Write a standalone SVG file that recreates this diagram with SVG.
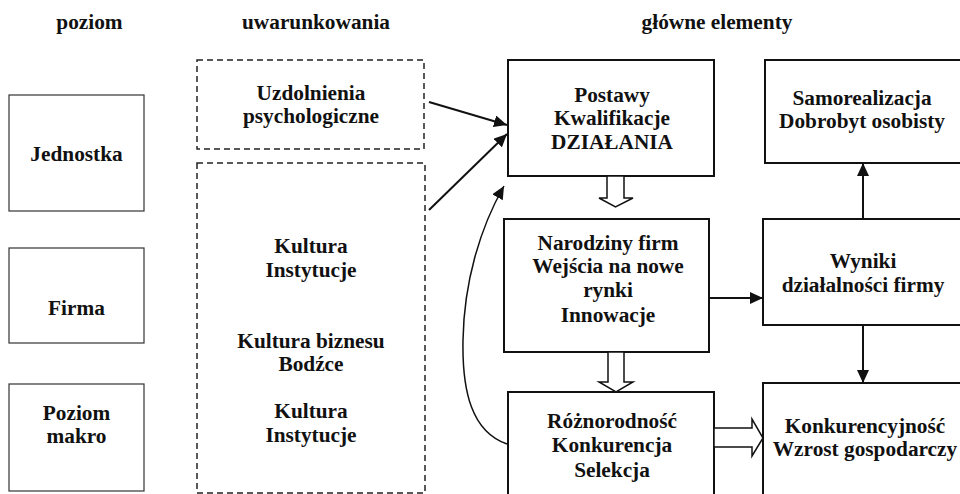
<svg xmlns="http://www.w3.org/2000/svg" width="960" height="494" viewBox="0 0 960 494">
<style>
text{font-family:"Liberation Serif","Times New Roman",serif;font-weight:bold;font-size:21.3px;fill:#111;text-anchor:middle}
.lvl{fill:#fff;stroke:#333;stroke-width:1.2}
.dash{fill:#fff;stroke:#222;stroke-width:1.5;stroke-dasharray:6 4}
.box{fill:#fff;stroke:#111;stroke-width:2}
.ln{fill:none;stroke:#111;stroke-width:2}
.hol{fill:#fff;stroke:#111;stroke-width:1.5}
</style>
<defs>
<marker id="ah" markerUnits="userSpaceOnUse" markerWidth="14" markerHeight="12" refX="13" refY="6" orient="auto">
<path d="M0,0 L13,6 L0,12 Z" fill="#111"/>
</marker>
</defs>
<rect width="960" height="494" fill="#fff"/>
<g id="headers">
<text x="89.5" y="29">poziom</text>
<text x="316" y="29">uwarunkowania</text>
<text x="717" y="29">główne elementy</text>
</g>
<g id="jednostka"><rect class="lvl" x="9" y="95" width="135" height="116"/><text x="76.5" y="161">Jednostka</text></g>
<g id="firma"><rect class="lvl" x="9" y="248" width="135" height="95"/><text x="76.5" y="315">Firma</text></g>
<g id="makro"><rect class="lvl" x="9" y="384" width="135" height="107"/><text x="76.5" y="420">Poziom</text><text x="76.5" y="443">makro</text></g>
<g id="uzdolnienia"><rect class="dash" x="197" y="60" width="227" height="89"/><text x="311" y="100">Uzdolnienia</text><text x="311" y="123">psychologiczne</text></g>
<g id="kultura"><rect class="dash" x="197" y="163" width="228" height="330"/>
<text x="311" y="253">Kultura</text><text x="311" y="277">Instytucje</text>
<text x="311" y="348">Kultura biznesu</text><text x="311" y="371">Bodźce</text>
<text x="311" y="418">Kultura</text><text x="311" y="442">Instytucje</text></g>
<g id="postawy"><rect class="box" x="508" y="60" width="206" height="116"/><text x="612" y="102">Postawy</text><text x="612" y="125">Kwalifikacje</text><text x="612" y="149">DZIAŁANIA</text></g>
<g id="samorealizacja"><rect class="box" x="765" y="60" width="197" height="103"/><text x="862" y="105">Samorealizacja</text><text x="862" y="128">Dobrobyt osobisty</text></g>
<g id="narodziny"><rect class="box" x="504" y="219" width="205" height="133"/><text x="608" y="250">Narodziny firm</text><text x="608" y="273">Wejścia na nowe</text><text x="608" y="297">rynki</text><text x="608" y="322">Innowacje</text></g>
<g id="wyniki"><rect class="box" x="763" y="219" width="199" height="106"/><text x="863" y="268">Wyniki</text><text x="863" y="292">działalności firmy</text></g>
<g id="roznorodnosc"><rect class="box" x="508" y="392" width="206" height="110"/><text x="612" y="428">Różnorodność</text><text x="612" y="452">Konkurencja</text><text x="612" y="477">Selekcja</text></g>
<g id="konkurencyjnosc"><rect class="box" x="763" y="383" width="199" height="119"/><text x="865" y="433">Konkurencyjność</text><text x="865" y="456">Wzrost gospodarczy</text></g>
<g id="connectors">
<line class="ln" x1="429" y1="102" x2="507" y2="125" marker-end="url(#ah)"/>
<line class="ln" x1="429" y1="210" x2="507" y2="134" marker-end="url(#ah)"/>
<path class="ln" style="stroke-width:1.5" d="M507,444 C472,432 462,392 463,340 C464,282 480,228 504,186" marker-end="url(#ah)"/>
<line class="ln" x1="709" y1="298" x2="763" y2="298" marker-end="url(#ah)"/>
<line class="ln" x1="863" y1="219" x2="863" y2="163" marker-end="url(#ah)"/>
<line class="ln" x1="863" y1="325" x2="863" y2="383" marker-end="url(#ah)"/>
<polygon class="hol" points="607,176 624,176 624,198 633,198 615.5,207 599,198 607,198"/>
<polygon class="hol" points="608,352 624,352 624,382 633,382 616,392 599,382 608,382"/>
<polygon class="hol" points="714,428 752,428 752,419 763,438 752,456 752,447 714,447"/>
</g>
</svg>
